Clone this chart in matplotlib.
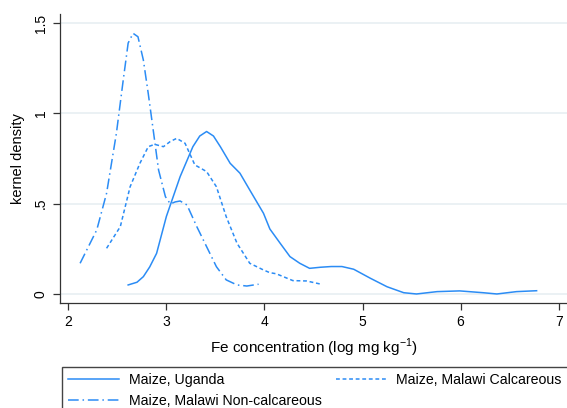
import matplotlib
matplotlib.use("Agg")
import matplotlib.pyplot as plt

plt.rcParams['font.family'] = ['Liberation Sans', 'DejaVu Sans']
plt.rcParams['mathtext.fontset'] = 'custom'
plt.rcParams['mathtext.rm'] = 'Liberation Sans'

# kernel density curves, read as (log Fe, density)
uganda_x = [2.61, 2.70, 2.765, 2.83, 2.90, 3.00, 3.14, 3.27, 3.34, 3.41, 3.48, 3.55,
            3.65, 3.75, 3.85, 3.99, 4.055, 4.16, 4.26, 4.36, 4.46, 4.57, 4.68, 4.79,
            4.91, 5.08, 5.25, 5.42, 5.55, 5.76, 5.99, 6.23, 6.37, 6.57, 6.775]
uganda_y = [0.05, 0.065, 0.096, 0.15, 0.225, 0.43, 0.65, 0.816, 0.875, 0.90, 0.875, 0.816,
            0.724, 0.669, 0.576, 0.447, 0.36, 0.281, 0.207, 0.17, 0.142, 0.148, 0.152, 0.152,
            0.137, 0.087, 0.04, 0.007, 0.0, 0.013, 0.017, 0.007, 0.0, 0.013, 0.018]

noncalc_x = [2.12, 2.29, 2.39, 2.49, 2.56, 2.61, 2.66, 2.71, 2.765, 2.815, 2.87, 2.92,
             2.99, 3.04, 3.09, 3.14, 3.21, 3.31, 3.41, 3.51, 3.61, 3.72, 3.82, 3.94]
noncalc_y = [0.17, 0.355, 0.558, 0.89, 1.186, 1.39, 1.444, 1.425, 1.296, 1.11, 0.89, 0.687,
             0.539, 0.499, 0.51, 0.515, 0.493, 0.373, 0.262, 0.151, 0.078, 0.05, 0.044, 0.054]

calc_x = [2.39, 2.53, 2.63, 2.73, 2.815, 2.88, 2.97, 3.04, 3.105, 3.19, 3.29, 3.41,
          3.51, 3.61, 3.72, 3.85, 3.99, 4.055, 4.12, 4.29, 4.43, 4.57]
calc_y = [0.253, 0.373, 0.594, 0.724, 0.816, 0.829, 0.816, 0.845, 0.862, 0.835, 0.715, 0.678,
          0.594, 0.428, 0.281, 0.17, 0.133, 0.118, 0.112, 0.074, 0.072, 0.055]

labels = ['Maize, Uganda', 'Maize, Malawi Non-calcareous', 'Maize, Malawi Calcareous']
blue = '#2b8cf5'

fig = plt.figure(figsize=(5.67, 4.08), dpi=100)
ax = fig.add_axes([60 / 567, 105 / 408, 507 / 567, 289 / 408])

l1, = ax.plot(uganda_x, uganda_y, color=blue, lw=1.1, ls='-')
l2, = ax.plot(noncalc_x, noncalc_y, color=blue, lw=1.1, ls=(0, (7, 2.5, 1, 2.5)))
l3, = ax.plot(calc_x, calc_y, color=blue, lw=1.1, ls=(0, (2.5, 1.8)))

ax.set_xlim(1.915, 7.085)
ax.set_ylim(-0.05, 1.551)
ax.set_xticks([2, 3, 4, 5, 6, 7])
ax.set_yticks([0, 0.5, 1, 1.5])
ax.set_yticklabels(['0', '.5', '1', '1.5'], rotation=90, va='center')
ax.yaxis.grid(True, color='#e6eef1', lw=1.1)
ax.set_axisbelow(True)
for side in ['top', 'right']:
    ax.spines[side].set_visible(False)
for side in ['left', 'bottom']:
    ax.spines[side].set_color('#333333')
    ax.spines[side].set_linewidth(0.9)
ax.tick_params(direction='out', length=5, width=0.9, color='#333333',
               labelsize=10, pad=4)
ax.set_xlabel('Fe concentration (log mg kg$^{-1}$)', fontsize=11, labelpad=5)
ax.set_ylabel('kernel density', fontsize=10.5, labelpad=6)

fig.legend([l1, l2, l3], labels, ncol=2, loc='upper left',
           bbox_to_anchor=(62 / 567, 1 - 367 / 408),
           fancybox=False, edgecolor='#444444', framealpha=1, fontsize=10.2,
           handlelength=3.6, handletextpad=0.65, borderpad=0.45, labelspacing=0.45,
           columnspacing=1.0, borderaxespad=0)

fig.savefig('out.png', dpi=100)
